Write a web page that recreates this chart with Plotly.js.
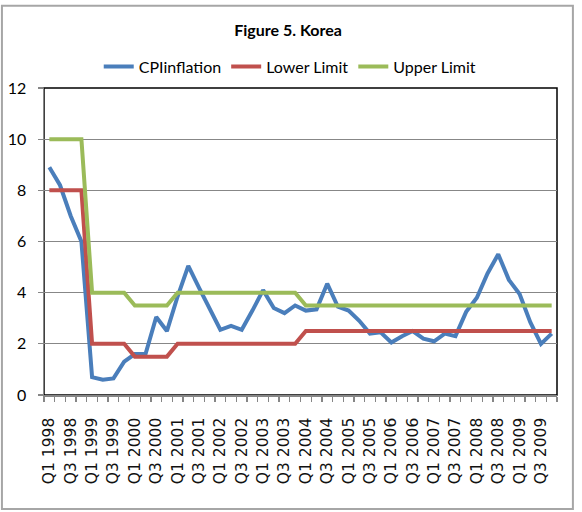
<!DOCTYPE html>
<html>
<head>
<meta charset="utf-8">
<script src="https://cdn.plot.ly/plotly-3.0.1.min.js"></script>
<style>
html,body{margin:0;padding:0;background:#fff;}
#chart{width:582px;height:512px;}
</style>
</head>
<body>
<div id="chart"></div>
<script>
// Quarters Q1 1998 .. Q4 2009
const years = [1998,1999,2000,2001,2002,2003,2004,2005,2006,2007,2008,2009];
const quarters = [];
years.forEach(y => { for (let q = 1; q <= 4; q++) quarters.push('Q' + q + ' ' + y); });

const cpiInflation = [8.9, 8.2, 7.0, 6.0, 0.7, 0.6, 0.65, 1.3,
  1.6, 1.6, 3.05, 2.5, 3.85, 5.05, 4.2, 3.4,
  2.55, 2.7, 2.55, 3.3, 4.1, 3.4, 3.2, 3.5,
  3.3, 3.35, 4.35, 3.45, 3.3, 2.9, 2.4, 2.45,
  2.05, 2.3, 2.5, 2.2, 2.1, 2.4, 2.3, 3.25,
  3.8, 4.75, 5.5, 4.5, 3.95, 2.85, 2.0, 2.4];
const lowerLimit = [8, 8, 8, 8, 2, 2, 2, 2,
  1.5, 1.5, 1.5, 1.5, 2, 2, 2, 2,
  2, 2, 2, 2, 2, 2, 2, 2,
  2.5, 2.5, 2.5, 2.5, 2.5, 2.5, 2.5, 2.5,
  2.5, 2.5, 2.5, 2.5, 2.5, 2.5, 2.5, 2.5,
  2.5, 2.5, 2.5, 2.5, 2.5, 2.5, 2.5, 2.5];
const upperLimit = [10, 10, 10, 10, 4, 4, 4, 4,
  3.5, 3.5, 3.5, 3.5, 4, 4, 4, 4,
  4, 4, 4, 4, 4, 4, 4, 4,
  3.5, 3.5, 3.5, 3.5, 3.5, 3.5, 3.5, 3.5,
  3.5, 3.5, 3.5, 3.5, 3.5, 3.5, 3.5, 3.5,
  3.5, 3.5, 3.5, 3.5, 3.5, 3.5, 3.5, 3.5];
const seriesNames = ['CPIinflation', 'Lower Limit', 'Upper Limit'];
const tickText = quarters.map(q => (q.startsWith('Q1') || q.startsWith('Q3')) ? q : '');

const colors = ['#4A7EBB', '#C0504D', '#9BBB59'];
const data = [cpiInflation, lowerLimit, upperLimit].map((vals, k) => ({
  type: 'scatter', mode: 'lines', x: quarters, y: vals, name: seriesNames[k],
  line: {color: colors[k], width: 4}
}));

const layout = {
  width: 582, height: 512,
  margin: {l: 44, r: 25, t: 87.5, b: 117},
  paper_bgcolor: '#fff', plot_bgcolor: '#fff',
  title: {text: 'Figure 5. Korea', font: {family: 'Lato, sans-serif', size: 16, color: '#000', weight: 'bold'},
          x: 0.495, xanchor: 'center', y: 0.941, yanchor: 'middle', xref: 'container', yref: 'container'},
  showlegend: true,
  legend: {orientation: 'h', x: 0.48, xanchor: 'center', y: 1.07, yanchor: 'middle',
           font: {family: 'Lato, sans-serif', size: 16, color: '#000'}, itemwidth: 30,
           bgcolor: 'rgba(0,0,0,0)'},
  xaxis: {type: 'category', tickmode: 'array', tickvals: quarters, ticktext: tickText,
          tickson: 'boundaries', ticks: 'outside', ticklen: 5, tickcolor: '#868686', tickwidth: 1.3,
          tickangle: -90, ticklabelstandoff: 15,
          tickfont: {family: 'DejaVu Sans, sans-serif', size: 15.5, color: '#111'},
          showgrid: false, showline: true, linecolor: '#868686', linewidth: 1.5,
          zeroline: false, range: [-0.5, 47.5], fixedrange: true},
  yaxis: {range: [0, 12], tickmode: 'linear', tick0: 0, dtick: 2,
          ticks: 'outside', ticklen: 5, tickcolor: '#868686', tickwidth: 1.3,
          ticklabelstandoff: 8,
          tickfont: {family: 'Lato, sans-serif', size: 16, color: '#000'},
          showgrid: true, gridcolor: '#878787', gridwidth: 1.3,
          showline: true, linecolor: '#868686', linewidth: 1.5, zeroline: false, fixedrange: true},
  shapes: [
    {type: 'rect', xref: 'paper', yref: 'paper', x0: 0, x1: 1, y0: 0, y1: 1,
     line: {color: '#000', width: 1.5}, layer: 'below'},
    {type: 'rect', xref: 'paper', yref: 'paper', x0: -0.082, x1: 1.031, y0: -0.371, y1: 1.268,
     line: {color: '#A6A6A6', width: 2}, layer: 'below'}
  ]
};

Plotly.newPlot('chart', data, layout, {staticPlot: true, displayModeBar: false});
</script>
</body>
</html>
